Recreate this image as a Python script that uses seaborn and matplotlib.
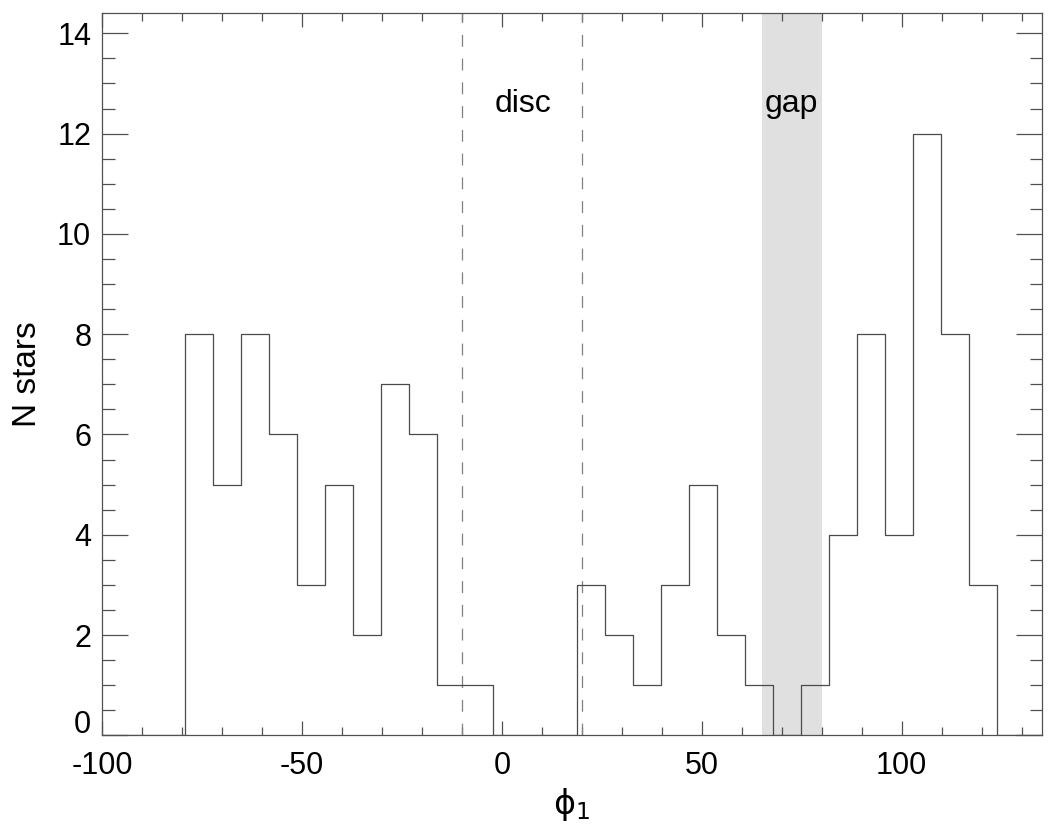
import numpy as np
import pandas as pd
import matplotlib
matplotlib.use("Agg")
import matplotlib.pyplot as plt
import seaborn as sns
from matplotlib.ticker import MultipleLocator, FuncFormatter

# Data
bin_start = -79.2
bin_width = 7.0
counts = [8, 5, 8, 6, 3, 5, 2, 7, 6, 1, 1, 0, 0, 0,
          3, 2, 1, 3, 5, 2, 1, 0, 1, 4, 8, 4, 12, 8, 3]
disc_edges = [-10, 20]
gap_range = [65, 80]
x_limits = [-100, 135]
y_limits = [0, 14.4]

edges = bin_start + bin_width * np.arange(len(counts) + 1)
centers = (edges[:-1] + edges[1:]) / 2
df = pd.DataFrame({"phi1": centers, "n": counts})

sns.set_theme(style="ticks")
plt.rcParams['font.family'] = ['Liberation Sans', 'DejaVu Sans']
plt.rcParams['mathtext.fontset'] = 'dejavusans'
plt.rcParams['axes.unicode_minus'] = False
plt.rcParams['text.color'] = 'black'
plt.rcParams['axes.labelcolor'] = 'black'
plt.rcParams['xtick.labelcolor'] = 'black'
plt.rcParams['ytick.labelcolor'] = 'black'

line_color = '#4a4a4a'
fig = plt.figure(figsize=(10.5, 8.25), dpi=100)
ax = fig.add_axes([0.0974, 0.1087, 0.8946, 0.8752])

ax.axvspan(gap_range[0], gap_range[1], color='#e0e0e0', lw=0, zorder=0)

sns.histplot(data=df, x="phi1", weights="n", bins=[float(e) for e in edges],
             element="step", fill=False, color=line_color, linewidth=0.9,
             ax=ax, zorder=3)
# outline closes down to zero at both ends and continues along zero
ax.plot([x_limits[0], edges[0], edges[0]], [0, 0, counts[0]],
        color=line_color, lw=0.9, zorder=3)
ax.plot([edges[-1], edges[-1], x_limits[1]], [counts[-1], 0, 0],
        color=line_color, lw=0.9, zorder=3)

for xv in disc_edges:
    ax.axvline(xv, color='#808080', lw=0.9, dashes=(9.5, 9.5), zorder=2)

ax.text(5.2, 12.6, "disc", fontsize=23, ha='center', va='center')
ax.text(72.5, 12.6, "gap", fontsize=23, ha='center', va='center')

ax.set_xlim(*x_limits)
ax.set_ylim(*y_limits)
ax.xaxis.set_major_locator(MultipleLocator(50))
ax.xaxis.set_minor_locator(MultipleLocator(10))
ax.yaxis.set_major_locator(MultipleLocator(2))
ax.yaxis.set_minor_locator(MultipleLocator(0.5))
# the "0" label is drawn slightly raised (below), as in the reference
ax.yaxis.set_major_formatter(FuncFormatter(lambda v, p: '' if abs(v) < 1e-9 else f'{v:g}'))
ax.annotate('0', xy=(0, 0), xycoords=('axes fraction', 'data'),
            xytext=(-8, 7.5), textcoords='offset points',
            ha='right', va='center', fontsize=22)
ax.tick_params(which='both', direction='in', top=True, right=True,
               color='#505050', width=0.9)
ax.tick_params(which='major', length=19, labelsize=22, pad=8)
ax.tick_params(which='minor', length=9)
ax.tick_params(axis='x', which='major', length=10, pad=11)
ax.tick_params(axis='x', which='minor', length=6)
for s in ax.spines.values():
    s.set_color('#505050')
    s.set_linewidth(0.9)

ax.set_xlabel(r'$\mathrm{\phi}_1$', fontsize=24, labelpad=4)
ax.set_ylabel('N stars', fontsize=24, labelpad=10)

fig.savefig("out.png", dpi=100)
